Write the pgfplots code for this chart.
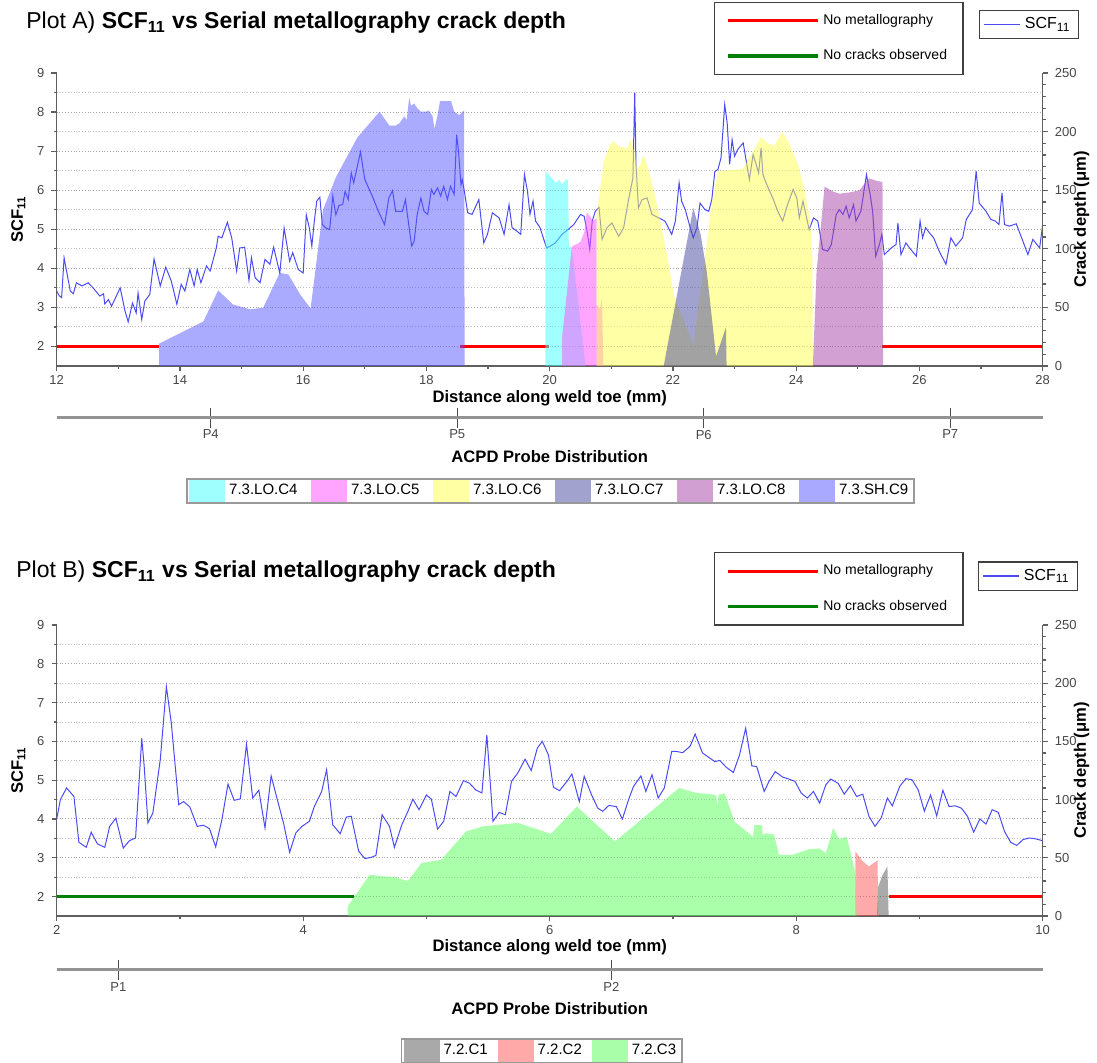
\documentclass[border=0pt]{standalone}
\usepackage{fontspec}
\setmainfont{Liberation Sans}
\usepackage{pgfplots}
\pgfplotsset{compat=1.18}
\definecolor{scfblue}{RGB}{75,75,245}
\definecolor{tickgray}{RGB}{70,70,70}
\definecolor{axgray}{RGB}{95,95,95}
\definecolor{cCfour}{RGB}{65,255,255}
\definecolor{cCfive}{RGB}{255,75,255}
\definecolor{cCsix}{RGB}{255,255,75}
\definecolor{cCseven}{RGB}{70,70,160}
\definecolor{cCeight}{RGB}{165,65,165}
\definecolor{cCnine}{RGB}{85,85,255}
\definecolor{cBone}{RGB}{85,85,85}
\definecolor{cBtwo}{RGB}{255,85,85}
\definecolor{cBthree}{RGB}{85,255,85}
\definecolor{nocrack}{RGB}{0,128,0}

\pgfplotsset{
  mainax/.style={
    scale only axis, width=493pt, ymin=1.5, ymax=9,
    axis x line*=bottom, axis y line*=left,
    axis line style={axgray, line width=0.7pt},
    tick align=outside, tick style={axgray, line width=0.6pt},
    major tick length=2.6pt, minor tick length=1.5pt,
    ytick={2,...,8}, extra y ticks={9}, extra y tick style={grid=none},
    minor ytick={2.5,3.5,...,8.5},
    ymajorgrids, yminorgrids,
    major grid style={densely dotted, gray!70, line width=0.5pt},
    minor grid style={densely dotted, gray!50, line width=0.5pt},
    ticklabel style={font=\fontsize{6.5}{7}\selectfont, text=tickgray},
    xticklabel style={yshift=1.5pt},
    /pgf/number format/assume math mode=true,
    label style={font=\bfseries\fontsize{8.3}{9}\selectfont},
    ylabel={SCF\textsubscript{11}},
    xlabel={Distance along weld toe (mm)},
    xlabel style={at={(axis description cs:0.5,-0.109)}, anchor=center},
    ylabel style={at={(axis description cs:-0.039,0.5)}, anchor=center},
    legend image code/.code={\draw[#1, draw=scfblue, line width=0.8pt] (0pt,0pt) -- (18pt,0pt);},
    legend style={anchor=center, draw=black!75, line width=0.6pt,
      font=\fontsize{8}{9}\selectfont, inner xsep=2pt, inner ysep=1.5pt},
  },
  depthax/.style={
    scale only axis, width=493pt, ymin=0, ymax=250,
    axis y line*=right, axis x line=none,
    axis line style={axgray, line width=0.7pt},
    tick align=outside, tick style={axgray, line width=0.6pt},
    major tick length=2.6pt, minor tick length=1.5pt,
    ytick={0,50,...,250}, minor y tick num=4,
    ticklabel style={font=\fontsize{6.5}{7}\selectfont, text=tickgray},
    /pgf/number format/assume math mode=true,
    label style={font=\bfseries\fontsize{8.3}{9}\selectfont},
    ylabel={Crack depth (μm)},
    ylabel style={at={(axis description cs:1.0395,0.5)}, anchor=center},
    legend image code/.code={\fill[#1] (0pt,-5.3pt) rectangle (18pt,5.3pt);},
    legend style={anchor=center, draw=gray!80, line width=0.9pt,
      font=\fontsize{7.5}{8}\selectfont, inner xsep=1pt, inner ysep=0.6pt,
      /tikz/every even column/.append style={column sep=4.8pt}},
  },
  keyax/.style={
    scale only axis, width=493pt, hide axis, xmin=0, xmax=1, ymin=0, ymax=1,
    legend image code/.code={\draw[#1] (0pt,0pt) -- (45pt,0pt);},
    legend style={anchor=center, draw=black!75, line width=0.6pt,
      font=\fontsize{7}{8}\selectfont, cells={anchor=west}, row sep=7pt,
      inner xsep=6pt, inner ysep=4pt},
  },
  acpdax/.style={
    scale only axis, width=493pt, height=5pt, ymin=0, ymax=1,
    hide y axis, axis x line*=bottom,
    axis line style={gray!85, line width=1.5pt},
    tick align=center, major tick length=10pt,
    tick style={black!70, line width=0.5pt},
    xticklabel style={font=\fontsize{6.5}{7}\selectfont, text=tickgray, yshift=2.5pt},
    xlabel={ACPD Probe Distribution},
    xlabel style={font=\bfseries\fontsize{8.3}{9}\selectfont,
      at={(axis description cs:0.5,0)}, anchor=center, yshift=-19.5pt},
  },
}

\begin{document}
\begin{tikzpicture}
\useasboundingbox (0,0) rectangle (548.5pt,531.5pt);

% ================= PLOT A =================
\node[anchor=west, inner sep=0pt] at (13pt,520pt)
  {\fontsize{11.5}{13}\selectfont Plot A) \textbf{SCF\textsubscript{11} vs Serial metallography crack depth}};

\begin{axis}[mainax, at={(28.35pt,348.5pt)}, anchor=south west, height=146.5pt,
  xmin=12, xmax=28, xtick={12,14,...,28}, minor xtick={13,15,...,27},
  legend style={at={(0.986,1.166)}}]
\addplot[scfblue, line width=0.5pt] coordinates {
(12.00,3.42) (12.04,3.30) (12.08,3.25) (12.12,4.27) (12.16,3.93) (12.22,3.42)
(12.27,3.35) (12.32,3.63) (12.41,3.55) (12.51,3.63) (12.59,3.50) (12.70,3.29)
(12.76,3.35) (12.78,3.09) (12.84,3.20) (12.89,3.03) (13.03,3.50) (13.11,2.90)
(13.16,2.63) (13.23,3.11) (13.29,2.86) (13.32,3.37) (13.38,2.69) (13.43,3.16)
(13.51,3.33) (13.58,4.24) (13.68,3.55) (13.77,4.03) (13.86,3.67) (13.95,3.08)
(14.02,3.59) (14.08,3.42) (14.16,3.97) (14.23,3.55) (14.28,3.97) (14.34,3.63)
(14.43,4.06) (14.49,3.93) (14.59,4.52) (14.62,4.82) (14.68,4.78) (14.77,5.18)
(14.84,4.78) (14.92,3.93) (14.97,4.52) (15.05,4.54) (15.12,3.69) (15.16,4.27)
(15.22,3.76) (15.30,3.63) (15.38,4.23) (15.46,4.10) (15.52,4.54) (15.62,3.88)
(15.69,5.03) (15.78,4.18) (15.83,4.40) (15.92,3.97) (16.00,3.88) (16.05,5.37)
(16.10,5.03) (16.14,4.57) (16.18,5.20) (16.22,5.72) (16.27,5.82) (16.31,5.12)
(16.37,5.03) (16.43,4.99) (16.48,5.85) (16.53,5.37) (16.58,5.61) (16.64,5.63)
(16.68,5.97) (16.73,5.76) (16.78,6.44) (16.82,6.19) (16.93,6.98) (17.00,6.27)
(17.11,5.89) (17.22,5.46) (17.32,5.12) (17.39,5.80) (17.45,5.99) (17.50,5.46)
(17.61,5.46) (17.66,5.76) (17.69,5.38) (17.76,4.57) (17.80,4.69) (17.85,5.38)
(17.91,5.80) (17.96,5.46) (18.02,5.38) (18.08,6.02) (18.12,5.89) (18.18,6.06)
(18.23,5.85) (18.28,6.10) (18.34,5.76) (18.39,6.10) (18.45,5.89) (18.49,7.42)
(18.52,7.00) (18.56,6.14) (18.58,6.27) (18.61,6.02) (18.67,5.42) (18.74,5.38)
(18.85,5.76) (18.93,4.65) (18.99,4.87) (19.07,5.42) (19.18,5.29) (19.26,4.87)
(19.34,5.63) (19.39,5.04) (19.47,4.95) (19.53,4.87) (19.59,6.40) (19.64,5.97)
(19.68,5.38) (19.73,5.72) (19.77,5.21) (19.84,5.05) (19.95,4.52) (20.01,4.57)
(20.09,4.65) (20.20,4.87) (20.28,4.97) (20.39,5.12) (20.50,5.38) (20.56,5.33)
(20.61,4.91) (20.65,4.48) (20.69,5.21) (20.74,5.46) (20.80,5.56) (20.85,4.74)
(20.93,5.04) (21.01,5.16) (21.12,4.82) (21.20,5.04) (21.28,5.76) (21.35,6.31)
(21.38,8.49) (21.40,6.66) (21.44,5.55) (21.50,5.76) (21.58,5.80) (21.66,5.38)
(21.77,5.29) (21.87,5.21) (21.98,4.87) (22.04,5.21) (22.10,6.19) (22.14,5.72)
(22.20,5.50) (22.28,5.04) (22.33,4.78) (22.39,5.04) (22.44,5.67) (22.52,5.50)
(22.58,5.46) (22.63,5.76) (22.68,6.48) (22.73,6.53) (22.78,6.83) (22.84,8.19)
(22.88,7.72) (22.92,6.66) (22.96,7.29) (23.00,6.87) (23.05,7.04) (23.14,7.21)
(23.19,6.74) (23.24,6.27) (23.30,6.91) (23.35,6.66) (23.39,6.44) (23.43,7.08)
(23.46,6.40) (23.51,6.19) (23.62,5.80) (23.70,5.46) (23.78,5.21) (23.86,5.63)
(23.95,6.02) (24.01,5.80) (24.05,5.29) (24.11,5.72) (24.21,4.99) (24.28,5.29)
(24.35,5.21) (24.43,4.48) (24.51,4.44) (24.57,4.61) (24.65,5.38) (24.70,5.50)
(24.76,5.38) (24.81,5.59) (24.86,5.29) (24.93,5.63) (24.97,5.21) (25.05,5.46)
(25.14,6.40) (25.20,5.89) (25.24,5.46) (25.29,4.31) (25.35,4.61) (25.39,4.87)
(25.43,4.35) (25.54,4.52) (25.62,4.61) (25.65,5.16) (25.70,4.35) (25.78,4.65)
(25.86,4.48) (25.95,4.31) (26.01,5.21) (26.05,4.78) (26.10,5.04) (26.16,4.91)
(26.23,4.78) (26.32,4.44) (26.43,4.10) (26.51,4.78) (26.59,4.57) (26.70,4.78)
(26.76,5.25) (26.86,5.50) (26.92,6.49) (26.97,5.67) (27.08,5.46) (27.16,5.25)
(27.23,5.21) (27.29,5.12) (27.34,5.93) (27.38,5.12) (27.46,5.08) (27.57,5.14)
(27.68,4.69) (27.76,4.35) (27.84,4.74) (27.95,4.52) (28.00,5.12)
};
\addlegendentry{SCF\textsubscript{11}}
\addplot[red, line width=1.5pt, forget plot] coordinates {(12,2) (13.66,2)};
\addplot[red, line width=1.5pt, forget plot] coordinates {(18.55,2) (19.99,2)};
\addplot[red, line width=1.5pt, forget plot] coordinates {(25.40,2) (28,2)};
\end{axis}

\begin{axis}[depthax, at={(28.35pt,348.5pt)}, anchor=south west, height=146.5pt,
  xmin=12, xmax=28, legend columns=6, legend style={at={(0.501,-0.427)}}]
\addplot[draw=none, fill=cCfour, fill opacity=0.5] coordinates {
(19.93,0) (19.93,166) (19.99,163) (20.04,160) (20.10,156) (20.15,159) (20.20,155)
(20.26,159) (20.30,159) (20.31,102) (20.36,101) (20.58,0)} \closedcycle;
\addlegendentry{7.3.LO.C4}
\addplot[draw=none, fill=cCfive, fill opacity=0.5] coordinates {
(20.20,0) (20.20,24) (20.36,102) (20.44,104) (20.50,106) (20.56,114) (20.60,131)
(20.65,128) (20.70,124) (20.76,126) (20.76,52) (20.82,49) (20.85,58) (20.87,0)} \closedcycle;
\addlegendentry{7.3.LO.C5}
\addplot[draw=none, fill=cCsix, fill opacity=0.5] coordinates {
(20.76,0) (20.76,130) (20.80,143) (20.88,175) (20.98,189) (21.04,192) (21.12,187)
(21.20,187) (21.25,185) (21.31,193) (21.36,185) (21.42,168) (21.47,172) (21.52,180)
(21.58,172) (21.66,155) (21.74,138) (21.85,109) (21.93,87) (22.01,61) (22.33,18)
(22.52,92) (22.62,135) (22.73,166) (22.90,167) (23.13,168) (23.43,195) (23.54,190)
(23.65,188) (23.73,196) (23.78,200) (23.90,188) (24.03,172) (24.14,149) (24.22,126)
(24.26,98) (24.27,0)} \closedcycle;
\addlegendentry{7.3.LO.C6}
\addplot[draw=none, fill=cCseven, fill opacity=0.5] coordinates {
(21.85,0) (22.33,135) (22.45,112) (22.55,80) (22.70,8) (22.86,33) (22.87,0)} \closedcycle;
\addlegendentry{7.3.LO.C7}
\addplot[draw=none, fill=cCeight, fill opacity=0.5] coordinates {
(24.27,0) (24.33,80) (24.46,153) (24.59,149) (24.70,147) (24.86,148) (25.03,150)
(25.14,158) (25.19,160) (25.30,158) (25.40,157) (25.41,0)} \closedcycle;
\addlegendentry{7.3.LO.C8}
\addplot[draw=none, fill=cCnine, fill opacity=0.5] coordinates {
(13.66,0) (13.66,19) (14.38,38) (14.62,64.5) (14.86,52.5) (15.14,48.3) (15.35,49.7)
(15.62,79.5) (15.76,78) (15.95,61) (16.12,49) (16.32,133) (16.53,161) (16.88,195)
(17.24,217) (17.40,205) (17.50,205) (17.56,207) (17.64,213) (17.68,210) (17.72,229)
(17.75,222) (17.80,224) (17.85,220) (17.91,217) (17.99,217) (18.04,218) (18.10,213)
(18.13,202) (18.18,214) (18.22,226) (18.31,226) (18.40,226) (18.45,217) (18.53,214)
(18.61,218) (18.62,0)} \closedcycle;
\addlegendentry{7.3.SH.C9}
\end{axis}

\begin{axis}[keyax, at={(28.35pt,348.5pt)}, anchor=south west, height=146.5pt,
  legend style={at={(0.793,1.118)}}]
\addlegendimage{red, line width=1.6pt}
\addlegendentry{No metallography}
\addlegendimage{nocrack, line width=1.6pt}
\addlegendentry{No cracks observed}
\end{axis}

\begin{axis}[acpdax, at={(28.35pt,322.5pt)}, anchor=south west,
  xmin=12, xmax=28, xtick={14.5,18.5,22.5,26.5}, xticklabels={P4,P5,P6,P7}]
\addplot[draw=none, forget plot] coordinates {(12,0) (28,1)};
\end{axis}

% ================= PLOT B =================
\node[anchor=west, inner sep=0pt] at (8pt,245.5pt)
  {\fontsize{11.5}{13}\selectfont Plot B) \textbf{SCF\textsubscript{11} vs Serial metallography crack depth}};

\begin{axis}[mainax, at={(28.35pt,73.5pt)}, anchor=south west, height=145.5pt,
  xmin=2, xmax=10, xtick={2,4,...,10}, minor xtick={3,5,7,9},
  legend style={at={(0.985,1.168)}}]
\addplot[scfblue, line width=0.5pt] coordinates {
(2.00,4.00) (2.03,4.50) (2.08,4.80) (2.14,4.58) (2.18,3.40) (2.24,3.27) (2.28,3.66)
(2.33,3.36) (2.39,3.27) (2.43,3.81) (2.48,4.02) (2.54,3.25) (2.59,3.44) (2.64,3.51)
(2.69,6.08) (2.71,5.35) (2.74,3.90) (2.78,4.15) (2.84,5.52) (2.89,7.41) (2.93,6.47)
(2.99,4.37) (3.03,4.45) (3.08,4.31) (3.14,3.81) (3.19,3.84) (3.24,3.75) (3.29,3.28)
(3.34,3.98) (3.39,4.90) (3.44,4.48) (3.49,4.52) (3.54,5.93) (3.59,4.54) (3.64,4.74)
(3.69,3.77) (3.74,5.11) (3.79,4.50) (3.84,3.90) (3.89,3.14) (3.94,3.64) (3.99,3.81)
(4.05,3.94) (4.09,4.32) (4.15,4.71) (4.19,5.27) (4.24,3.85) (4.30,3.62) (4.35,4.05)
(4.39,4.07) (4.45,3.17) (4.50,2.98) (4.55,3.01) (4.59,3.06) (4.64,4.11) (4.70,3.81)
(4.74,3.27) (4.80,3.85) (4.85,4.20) (4.89,4.51) (4.94,4.24) (5.00,4.62) (5.04,4.51)
(5.09,3.74) (5.14,3.94) (5.19,4.71) (5.24,4.58) (5.30,4.99) (5.35,4.92) (5.40,4.75)
(5.45,4.67) (5.49,6.17) (5.54,3.94) (5.59,4.17) (5.64,4.11) (5.69,4.97) (5.74,5.18)
(5.80,5.54) (5.85,5.25) (5.90,5.83) (5.94,6.00) (5.99,5.65) (6.03,4.82) (6.08,4.73)
(6.14,4.97) (6.18,5.16) (6.24,4.45) (6.28,5.10) (6.34,4.62) (6.39,4.28) (6.43,4.20)
(6.48,4.35) (6.54,4.32) (6.59,4.00) (6.64,4.50) (6.68,4.84) (6.74,5.11) (6.78,4.71)
(6.83,5.14) (6.88,4.54) (6.93,4.80) (6.99,5.74) (7.03,5.74) (7.08,5.71) (7.14,5.88)
(7.18,6.19) (7.24,5.70) (7.29,5.59) (7.34,5.48) (7.38,5.51) (7.43,5.34) (7.49,5.20)
(7.54,5.65) (7.59,6.34) (7.64,5.37) (7.68,5.35) (7.74,4.71) (7.78,4.97) (7.83,5.22)
(7.89,5.08) (7.94,5.03) (7.99,4.97) (8.04,4.67) (8.09,4.54) (8.14,4.71) (8.19,4.41)
(8.24,4.88) (8.28,5.03) (8.34,4.92) (8.39,4.64) (8.44,4.86) (8.49,4.58) (8.54,4.64)
(8.59,4.07) (8.64,3.81) (8.69,4.03) (8.74,4.54) (8.78,4.34) (8.84,4.84) (8.89,5.04)
(8.94,5.01) (8.99,4.75) (9.04,4.20) (9.09,4.62) (9.14,4.08) (9.19,4.74) (9.24,4.32)
(9.29,4.34) (9.34,4.28) (9.39,4.07) (9.44,3.66) (9.49,4.00) (9.54,3.87) (9.59,4.24)
(9.64,4.17) (9.69,3.68) (9.74,3.40) (9.79,3.32) (9.84,3.47) (9.89,3.51) (9.94,3.49)
(10.00,3.44)
};
\addlegendentry{SCF\textsubscript{11}}
\addplot[nocrack, line width=1.5pt, forget plot] coordinates {(2,2) (4.41,2)};
\addplot[red, line width=1.5pt, forget plot] coordinates {(8.75,2) (10,2)};
\end{axis}

\begin{axis}[depthax, at={(28.35pt,73.5pt)}, anchor=south west, height=145.5pt,
  xmin=2, xmax=10, legend columns=3, legend style={at={(0.492,-0.464)},
  /tikz/every even column/.append style={column sep=3pt}}]
\addplot[draw=none, fill=cBone, fill opacity=0.5] coordinates {
(8.655,0) (8.665,25) (8.70,35) (8.74,42.6) (8.75,0)} \closedcycle;
\addlegendentry{7.2.C1}
\addplot[draw=none, fill=cBtwo, fill opacity=0.5] coordinates {
(8.48,0) (8.48,55.5) (8.54,47) (8.59,42.6) (8.65,47) (8.66,48) (8.665,0)} \closedcycle;
\addlegendentry{7.2.C2}
\addplot[draw=none, fill=cBthree, fill opacity=0.5] coordinates {
(4.36,0) (4.36,8) (4.54,35.5) (4.65,34) (4.74,33.5) (4.85,30) (4.96,45.5) (5.12,48.3)
(5.32,72.6) (5.46,77) (5.74,80) (6.01,70.6) (6.22,94) (6.53,64) (7.05,110) (7.18,106)
(7.35,104) (7.36,94) (7.37,104) (7.42,105.5) (7.50,81) (7.65,68) (7.66,78) (7.72,78)
(7.73,70) (7.76,71) (7.82,70) (7.86,52.6) (7.97,52.6) (8.11,57.5) (8.19,58) (8.24,54)
(8.30,75.5) (8.35,66) (8.41,68) (8.48,37) (8.49,0)} \closedcycle;
\addlegendentry{7.2.C3}
\end{axis}

\begin{axis}[keyax, at={(28.35pt,73.5pt)}, anchor=south west, height=145.5pt,
  legend style={at={(0.793,1.124)}}]
\addlegendimage{red, line width=1.6pt}
\addlegendentry{No metallography}
\addlegendimage{nocrack, line width=1.6pt}
\addlegendentry{No cracks observed}
\end{axis}

\begin{axis}[acpdax, at={(28.35pt,46.5pt)}, anchor=south west,
  xmin=2, xmax=10, xtick={2.5,6.5}, xticklabels={P1,P2}]
\addplot[draw=none, forget plot] coordinates {(2,0) (10,1)};
\end{axis}
\end{tikzpicture}
\end{document}
